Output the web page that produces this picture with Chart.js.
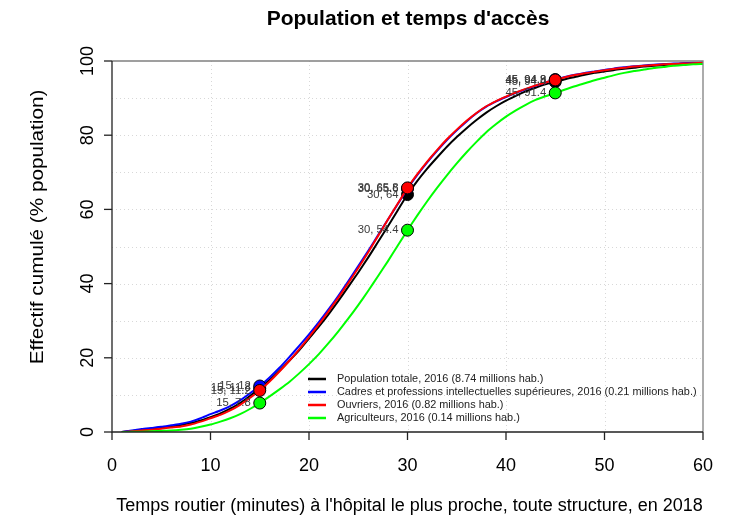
<!DOCTYPE html>
<html>
<head>
<meta charset="utf-8">
<script src="https://cdn.jsdelivr.net/npm/chart.js@4/dist/chart.umd.min.js"></script>
<style>
  html, body { margin: 0; padding: 0; background: #fff; }
  #wrap { width: 738px; height: 522px; }
</style>
</head>
<body>
<div id="wrap"><canvas id="chart" width="738" height="522"></canvas></div>
<script>
// minutes de trajet
const minutes = [1,2,3,4,5,6,7,8,9,10,11,12,13,14,15,16,17,18,19,20,
  21,22,23,24,25,26,27,28,29,30,31,32,33,34,35,36,37,38,39,40,
  41,42,43,44,45,46,47,48,49,50,51,52,53,54,55,56,57,58,59,60];

const popTotale = [0,0.3,0.6,0.9,1.2,1.5,1.9,2.4,3.1,4.0,5.0,6.3,7.8,9.7,11.8,14.0,16.5,19.2,22.0,25.2,
  28.4,31.8,35.4,39.2,43.0,47.0,51.2,55.4,59.7,64.0,67.7,71.0,74.0,76.9,79.5,81.9,84.1,86.1,87.8,89.3,
  90.6,91.8,92.8,93.7,94.4,95.1,95.7,96.3,96.8,97.2,97.6,97.9,98.2,98.5,98.7,98.9,99.1,99.3,99.4,99.5];

const cadres = [0,0.4,0.8,1.1,1.4,1.8,2.2,2.8,3.7,4.8,5.8,7.0,8.5,10.4,12.4,14.7,17.3,20.2,23.2,26.3,
  29.6,33.1,36.8,40.7,44.7,48.8,53.0,57.2,61.4,65.6,69.3,72.7,75.8,78.7,81.3,83.7,85.9,87.7,89.1,90.3,
  91.4,92.4,93.3,94.2,95.0,95.7,96.3,96.8,97.2,97.6,98.0,98.3,98.6,98.8,99.0,99.2,99.3,99.4,99.5,99.6];

const ouvriers = [0,0.2,0.4,0.6,0.9,1.2,1.5,2.0,2.8,3.7,4.6,5.8,7.3,9.2,11.2,13.6,16.3,19.2,22.3,25.6,
  29.0,32.6,36.3,40.2,44.2,48.4,52.8,57.2,61.5,65.8,69.5,72.9,76.0,78.9,81.5,83.9,86.0,87.8,89.2,90.4,
  91.5,92.5,93.4,94.2,94.9,95.6,96.2,96.7,97.1,97.5,97.9,98.2,98.5,98.7,98.9,99.1,99.2,99.3,99.4,99.5];

const agriculteurs = [0,0.05,0.1,0.2,0.3,0.4,0.6,0.9,1.4,2.0,2.8,3.7,4.8,6.2,7.8,9.6,11.5,13.5,15.8,18.3,
  21.0,24.0,27.2,30.6,34.2,38.0,42.0,46.0,50.2,54.4,58.4,62.2,65.8,69.2,72.4,75.4,78.2,80.8,83.0,85.0,
  86.7,88.2,89.5,90.5,91.4,92.3,93.2,94.0,94.8,95.5,96.2,96.8,97.3,97.7,98.1,98.4,98.7,98.9,99.1,99.2];

const seriesNames = [
  'Population totale, 2016 (8.74 millions hab.)',
  'Cadres et professions intellectuelles supérieures, 2016 (0.21 millions hab.)',
  'Ouvriers, 2016 (0.82 millions hab.)',
  'Agriculteurs, 2016 (0.14 millions hab.)'
];
const seriesColors = ['#000000', '#0000ff', '#ff0000', '#00ff00'];

// points repérés et leurs étiquettes
const markMinutes = [15, 30, 45];
const markLabels = [
  ['15, 11.8', '30, 64', '45, 94.4'],
  ['15, 12', '30, 65.6', '45, 94.9'],
  ['15, 11.2', '30, 65.8', '45, 94.8'],
  ['15, 7.8', '30, 54.4', '45, 91.4']
];

const xTicks = [0, 10, 20, 30, 40, 50, 60];
const yTicks = [0, 20, 40, 60, 80, 100];
const xGrid = [10, 20, 30, 40, 50];
const yGrid = [10, 20, 30, 40, 50, 60, 70, 80, 90];

const allSeries = [popTotale, cadres, ouvriers, agriculteurs];
const drawOrder = [4, 3, 2, 1];

const FONT = '"Liberation Sans", Arial, sans-serif';

const datasets = allSeries.map((vals, i) => ({
  label: seriesNames[i],
  data: minutes.map((m, j) => ({ x: m, y: vals[j] })),
  borderColor: seriesColors[i],
  backgroundColor: seriesColors[i],
  borderWidth: 2,
  tension: 0.2,
  order: drawOrder[i],
  pointRadius: ctx => markMinutes.includes(minutes[ctx.dataIndex]) ? 6 : 0,
  pointBorderColor: '#000',
  pointBorderWidth: 1,
  pointBackgroundColor: seriesColors[i]
}));

function drawText(ctx, text, x, y, font, sx, rot, align) {
  ctx.save();
  ctx.translate(x, y);
  if (rot) ctx.rotate(rot);
  if (sx !== 1) ctx.scale(sx, 1);
  ctx.font = font;
  ctx.textAlign = align || 'center';
  ctx.textBaseline = 'middle';
  ctx.fillText(text, 0, 0);
  ctx.restore();
}

const rPlot = {
  id: 'rPlot',
  beforeDatasetsDraw(chart) {
    const { ctx, chartArea: a, scales: { x, y } } = chart;
    ctx.save();
    ctx.strokeStyle = '#d8d8d8';
    ctx.lineWidth = 1;
    ctx.setLineDash([1, 3]);
    xGrid.forEach(v => {
      const px = Math.round(x.getPixelForValue(v)) + 0.5;
      ctx.beginPath(); ctx.moveTo(px, a.top); ctx.lineTo(px, a.bottom); ctx.stroke();
    });
    yGrid.forEach(v => {
      const py = Math.round(y.getPixelForValue(v)) + 0.5;
      ctx.beginPath(); ctx.moveTo(a.left, py); ctx.lineTo(a.right, py); ctx.stroke();
    });
    ctx.restore();
  },
  afterDatasetsDraw(chart) {
    const { ctx, chartArea: a, scales: { x, y } } = chart;
    ctx.save();

    // étiquettes des points
    ctx.fillStyle = '#3a3a3a';
    allSeries.forEach((vals, i) => {
      const meta = chart.getDatasetMeta(i);
      markMinutes.forEach((m, k) => {
        const el = meta.data[minutes.indexOf(m)];
        drawText(ctx, markLabels[i][k], el.x - 9, el.y, '11.3px ' + FONT, 1, 0, 'right');
      });
    });

    // cadre
    ctx.strokeStyle = '#808080';
    ctx.lineWidth = 1.3;
    ctx.beginPath();
    ctx.moveTo(a.left, a.top); ctx.lineTo(a.right, a.top); ctx.lineTo(a.right, a.bottom);
    ctx.stroke();

    // axes
    ctx.strokeStyle = '#222';
    ctx.beginPath();
    ctx.moveTo(a.left, a.top); ctx.lineTo(a.left, a.bottom); ctx.lineTo(a.right, a.bottom);
    ctx.stroke();

    ctx.fillStyle = '#000';
    xTicks.forEach(v => {
      const px = x.getPixelForValue(v);
      ctx.beginPath(); ctx.moveTo(px, a.bottom); ctx.lineTo(px, a.bottom + 8); ctx.stroke();
      drawText(ctx, String(v), px, a.bottom + 34, '18px ' + FONT, 1);
    });
    yTicks.forEach(v => {
      const py = y.getPixelForValue(v);
      ctx.beginPath(); ctx.moveTo(a.left, py); ctx.lineTo(a.left - 8, py); ctx.stroke();
      drawText(ctx, String(v), a.left - 24, py, '18px ' + FONT, 1, -Math.PI / 2);
    });

    // titres
    drawText(ctx, "Temps routier (minutes) à l'hôpital le plus proche, toute structure, en 2018",
      (a.left + a.right) / 2 + 2, 506, '18px ' + FONT, 1);
    drawText(ctx, 'Effectif cumulé (% population)', 38, 227, '18px ' + FONT, 1.15, -Math.PI / 2);
    drawText(ctx, "Population et temps d'accès", 408, 19, 'bold 21px ' + FONT, 1);

    // légende
    ctx.lineWidth = 2.5;
    seriesNames.forEach((name, i) => {
      const ly = 379 + i * 13;
      ctx.strokeStyle = seriesColors[i];
      ctx.beginPath(); ctx.moveTo(308, ly); ctx.lineTo(326, ly); ctx.stroke();
      ctx.fillStyle = '#222';
      drawText(ctx, name, 337, ly, '10.9px ' + FONT, 1, 0, 'left');
    });

    ctx.restore();
  }
};

new Chart(document.getElementById('chart'), {
  type: 'line',
  data: { datasets },
  options: {
    responsive: false,
    animation: false,
    layout: { padding: { left: 112, top: 61, right: 35, bottom: 90 } },
    scales: {
      x: { type: 'linear', min: 0, max: 60, display: false },
      y: { type: 'linear', min: 0, max: 100, display: false }
    },
    plugins: {
      legend: { display: false },
      title: { display: false },
      tooltip: { enabled: false }
    }
  },
  plugins: [rPlot]
});
</script>
</body>
</html>
